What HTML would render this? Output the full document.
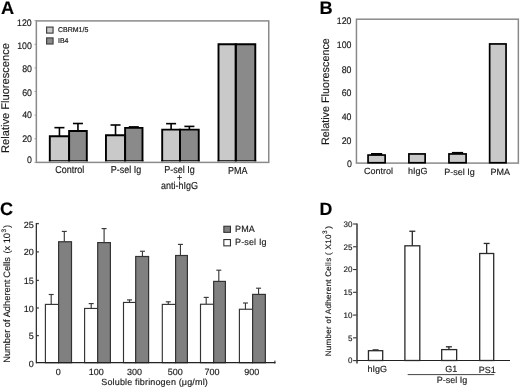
<!DOCTYPE html>
<html><head><meta charset="utf-8"><style>
html,body{margin:0;padding:0;background:#fff;}
body{width:520px;height:388px;overflow:hidden;}
svg{display:block;font-family:"Liberation Sans", sans-serif;}
svg{will-change:transform;}
.wrap{}
text{stroke:#1a1a1a;stroke-width:0.15px;text-rendering:geometricPrecision;}
</style></head><body>
<div class="wrap"><svg width="520" height="388" viewBox="0 0 520 388">
<rect width="520" height="388" fill="#fff"/>
<text transform="translate(0.9,13.90) scale(1,1)" font-size="18.2" text-anchor="start" font-weight="bold" fill="#000" letter-spacing="0" >A</text>
<text transform="translate(31.7,26.40) scale(1,1.08)" font-size="8.8" text-anchor="end" font-weight="normal" fill="#1a1a1a" letter-spacing="0" >120</text>
<text transform="translate(31.9,49.20) scale(1,1.08)" font-size="8.8" text-anchor="end" font-weight="normal" fill="#1a1a1a" letter-spacing="0" >100</text>
<text transform="translate(32.0,71.90) scale(1,1.08)" font-size="8.8" text-anchor="end" font-weight="normal" fill="#1a1a1a" letter-spacing="0" >80</text>
<text transform="translate(32.0,95.60) scale(1,1.08)" font-size="8.8" text-anchor="end" font-weight="normal" fill="#1a1a1a" letter-spacing="0" >60</text>
<text transform="translate(32.0,117.90) scale(1,1.08)" font-size="8.8" text-anchor="end" font-weight="normal" fill="#1a1a1a" letter-spacing="0" >40</text>
<text transform="translate(32.0,141.60) scale(1,1.08)" font-size="8.8" text-anchor="end" font-weight="normal" fill="#1a1a1a" letter-spacing="0" >20</text>
<text transform="translate(32.0,163.10) scale(1,1.08)" font-size="8.8" text-anchor="end" font-weight="normal" fill="#1a1a1a" letter-spacing="0" >0</text>
<text transform="translate(8.6,152.9) rotate(-90)" font-size="11.1" text-anchor="start" fill="#1a1a1a" letter-spacing="0">Relative Fluorescence</text>
<line x1="34.4" y1="162.4" x2="36" y2="162.4" stroke="#aaa" stroke-width="1"/>
<line x1="34.4" y1="138.775" x2="36" y2="138.775" stroke="#aaa" stroke-width="1"/>
<line x1="34.4" y1="115.15" x2="36" y2="115.15" stroke="#aaa" stroke-width="1"/>
<line x1="34.4" y1="91.525" x2="36" y2="91.525" stroke="#aaa" stroke-width="1"/>
<line x1="34.4" y1="67.9" x2="36" y2="67.9" stroke="#aaa" stroke-width="1"/>
<line x1="34.4" y1="44.27500000000002" x2="36" y2="44.27500000000002" stroke="#aaa" stroke-width="1"/>
<line x1="34.4" y1="20.650000000000006" x2="36" y2="20.650000000000006" stroke="#aaa" stroke-width="1"/>
<rect x="36.35" y="20.9" width="232.4" height="141.5" fill="none" stroke="#8a8a8a" stroke-width="1.5"/>
<line x1="59.449999999999996" y1="136.25" x2="59.449999999999996" y2="127.65" stroke="#000" stroke-width="1.6"/>
<line x1="54.449999999999996" y1="127.65" x2="64.44999999999999" y2="127.65" stroke="#000" stroke-width="1.6"/>
<line x1="77.94999999999999" y1="131.0" x2="77.94999999999999" y2="123.5" stroke="#000" stroke-width="1.6"/>
<line x1="72.94999999999999" y1="123.5" x2="82.94999999999999" y2="123.5" stroke="#000" stroke-width="1.6"/>
<rect x="49.80" y="136.25" width="19.30" height="24.75" fill="#c9c9c9"/>
<rect x="69.10" y="131.00" width="17.70" height="30.00" fill="#8a8a8a"/>
<path d="M49.80 161.3V136.25H69.10V161.3" fill="none" stroke="#000" stroke-width="1.9" stroke-linejoin="miter" stroke-linecap="butt"/>
<path d="M69.10 161.3V131.00H86.80V161.3" fill="none" stroke="#000" stroke-width="1.9" stroke-linejoin="miter" stroke-linecap="butt"/>
<line x1="48.849999999999994" y1="160.75" x2="87.75" y2="160.75" stroke="#000" stroke-width="1.1"/>
<line x1="115.525" y1="135.2" x2="115.525" y2="125.0" stroke="#000" stroke-width="1.6"/>
<line x1="110.525" y1="125.0" x2="120.525" y2="125.0" stroke="#000" stroke-width="1.6"/>
<line x1="133.8" y1="127.9" x2="133.8" y2="126.9" stroke="#000" stroke-width="1.6"/>
<line x1="128.8" y1="126.9" x2="138.8" y2="126.9" stroke="#000" stroke-width="1.6"/>
<rect x="105.95" y="135.20" width="19.15" height="25.80" fill="#c9c9c9"/>
<rect x="125.10" y="127.90" width="17.40" height="33.10" fill="#8a8a8a"/>
<path d="M105.95 161.3V135.20H125.10V161.3" fill="none" stroke="#000" stroke-width="1.9" stroke-linejoin="miter" stroke-linecap="butt"/>
<path d="M125.10 161.3V127.90H142.50V161.3" fill="none" stroke="#000" stroke-width="1.9" stroke-linejoin="miter" stroke-linecap="butt"/>
<line x1="105.0" y1="160.75" x2="143.45" y2="160.75" stroke="#000" stroke-width="1.1"/>
<line x1="171.1" y1="129.6" x2="171.1" y2="123.65" stroke="#000" stroke-width="1.6"/>
<line x1="166.1" y1="123.65" x2="176.1" y2="123.65" stroke="#000" stroke-width="1.6"/>
<line x1="189.375" y1="129.6" x2="189.375" y2="126.4" stroke="#000" stroke-width="1.6"/>
<line x1="184.375" y1="126.4" x2="194.375" y2="126.4" stroke="#000" stroke-width="1.6"/>
<rect x="162.20" y="129.60" width="17.80" height="31.40" fill="#c9c9c9"/>
<rect x="180.00" y="129.60" width="18.75" height="31.40" fill="#8a8a8a"/>
<path d="M162.20 161.3V129.60H180.00V161.3" fill="none" stroke="#000" stroke-width="1.9" stroke-linejoin="miter" stroke-linecap="butt"/>
<path d="M180.00 161.3V129.60H198.75V161.3" fill="none" stroke="#000" stroke-width="1.9" stroke-linejoin="miter" stroke-linecap="butt"/>
<line x1="161.25" y1="160.75" x2="199.7" y2="160.75" stroke="#000" stroke-width="1.1"/>
<rect x="218.50" y="44.30" width="17.25" height="116.70" fill="#c9c9c9"/>
<rect x="235.75" y="44.30" width="19.55" height="116.70" fill="#8a8a8a"/>
<path d="M218.50 161.3V44.30H235.75V161.3" fill="none" stroke="#000" stroke-width="1.9" stroke-linejoin="miter" stroke-linecap="butt"/>
<path d="M235.75 161.3V44.30H255.30V161.3" fill="none" stroke="#000" stroke-width="1.9" stroke-linejoin="miter" stroke-linecap="butt"/>
<line x1="217.55" y1="160.75" x2="256.25" y2="160.75" stroke="#000" stroke-width="1.1"/>
<rect x="46.60" y="27.10" width="6.45" height="6.00" fill="#c9c9c9" stroke="#444" stroke-width="1.2"/>
<rect x="46.60" y="37.90" width="6.45" height="6.10" fill="#8a8a8a" stroke="#444" stroke-width="1.2"/>
<text transform="translate(58.0,32.30) scale(1,1.0)" font-size="7" text-anchor="start" font-weight="normal" fill="#1a1a1a" letter-spacing="0" style="stroke-width:0.2px">CBRM1/5</text>
<text transform="translate(58.0,43.20) scale(1,1.0)" font-size="7" text-anchor="start" font-weight="normal" fill="#1a1a1a" letter-spacing="0" style="stroke-width:0.2px">IB4</text>
<text transform="translate(69.7,173.30) scale(1,1.12)" font-size="9" text-anchor="middle" font-weight="normal" fill="#1a1a1a" letter-spacing="0" >Control</text>
<text transform="translate(125.9,173.30) scale(1,1.12)" font-size="9" text-anchor="middle" font-weight="normal" fill="#1a1a1a" letter-spacing="0" >P-sel Ig</text>
<text transform="translate(179.5,173.30) scale(1,1.12)" font-size="9" text-anchor="middle" font-weight="normal" fill="#1a1a1a" letter-spacing="0" >P-sel Ig</text>
<text transform="translate(179.6,181.30) scale(1,1.12)" font-size="9" text-anchor="middle" font-weight="normal" fill="#1a1a1a" letter-spacing="0" >+</text>
<text transform="translate(179.6,188.90) scale(1,1.12)" font-size="9" text-anchor="middle" font-weight="normal" fill="#1a1a1a" letter-spacing="0" >anti-hIgG</text>
<text transform="translate(237.8,174.00) scale(1,1.12)" font-size="9" text-anchor="middle" font-weight="normal" fill="#1a1a1a" letter-spacing="0" >PMA</text>
<text transform="translate(319.6,13.90) scale(1,1)" font-size="18.2" text-anchor="start" font-weight="bold" fill="#000" letter-spacing="0" >B</text>
<text transform="translate(351.5,24.20) scale(1,1.08)" font-size="8.8" text-anchor="end" font-weight="normal" fill="#1a1a1a" letter-spacing="0" >120</text>
<text transform="translate(351.5,47.60) scale(1,1.08)" font-size="8.8" text-anchor="end" font-weight="normal" fill="#1a1a1a" letter-spacing="0" >100</text>
<text transform="translate(351.5,72.50) scale(1,1.08)" font-size="8.8" text-anchor="end" font-weight="normal" fill="#1a1a1a" letter-spacing="0" >80</text>
<text transform="translate(351.5,96.30) scale(1,1.08)" font-size="8.8" text-anchor="end" font-weight="normal" fill="#1a1a1a" letter-spacing="0" >60</text>
<text transform="translate(351.5,120.20) scale(1,1.08)" font-size="8.8" text-anchor="end" font-weight="normal" fill="#1a1a1a" letter-spacing="0" >40</text>
<text transform="translate(351.5,144.20) scale(1,1.08)" font-size="8.8" text-anchor="end" font-weight="normal" fill="#1a1a1a" letter-spacing="0" >20</text>
<text transform="translate(352,166.70) scale(1,1.08)" font-size="8.8" text-anchor="end" font-weight="normal" fill="#1a1a1a" letter-spacing="0" >0</text>
<text transform="translate(328.8,145.0) rotate(-90)" font-size="10.8" text-anchor="start" fill="#1a1a1a" letter-spacing="0">Relative Fluorescence</text>
<rect x="356.45" y="19.2" width="161.9" height="143.9" fill="none" stroke="#8a8a8a" stroke-width="1.5"/>
<rect x="371.00" y="153.00" width="11.2" height="2.00" fill="#000"/>
<rect x="368.05" y="155.05" width="17.10" height="7.70" fill="#c9c9c9" stroke="#000" stroke-width="1.7"/>
<rect x="408.90" y="153.95" width="16.25" height="8.80" fill="#c9c9c9" stroke="#000" stroke-width="1.7"/>
<rect x="451.92" y="151.90" width="11.2" height="2.00" fill="#000"/>
<rect x="448.95" y="153.95" width="17.15" height="8.80" fill="#c9c9c9" stroke="#000" stroke-width="1.7"/>
<rect x="489.65" y="43.95" width="16.40" height="118.80" fill="#c9c9c9" stroke="#000" stroke-width="1.7"/>
<text transform="translate(378.6,174.20) scale(1,1.0)" font-size="9" text-anchor="middle" font-weight="normal" fill="#1a1a1a" letter-spacing="0" >Control</text>
<text transform="translate(417.8,174.40) scale(1,1.0)" font-size="9" text-anchor="middle" font-weight="normal" fill="#1a1a1a" letter-spacing="0" >hIgG</text>
<text transform="translate(459.5,174.50) scale(1,1.0)" font-size="9" text-anchor="middle" font-weight="normal" fill="#1a1a1a" letter-spacing="0" >P-sel Ig</text>
<text transform="translate(500.3,174.90) scale(1,1.0)" font-size="9" text-anchor="middle" font-weight="normal" fill="#1a1a1a" letter-spacing="0" >PMA</text>
<text transform="translate(0.1,215.10) scale(1,1)" font-size="18" text-anchor="start" font-weight="bold" fill="#000" letter-spacing="0" >C</text>
<text transform="translate(33.8,227.80) scale(1,1.0)" font-size="9" text-anchor="end" font-weight="normal" fill="#1a1a1a" letter-spacing="0" >25</text>
<text transform="translate(33.8,255.40) scale(1,1.0)" font-size="9" text-anchor="end" font-weight="normal" fill="#1a1a1a" letter-spacing="0" >20</text>
<text transform="translate(33.8,283.50) scale(1,1.0)" font-size="9" text-anchor="end" font-weight="normal" fill="#1a1a1a" letter-spacing="0" >15</text>
<text transform="translate(33.8,311.70) scale(1,1.0)" font-size="9" text-anchor="end" font-weight="normal" fill="#1a1a1a" letter-spacing="0" >10</text>
<text transform="translate(33.8,339.20) scale(1,1.0)" font-size="9" text-anchor="end" font-weight="normal" fill="#1a1a1a" letter-spacing="0" >5</text>
<text transform="translate(33.8,367.30) scale(1,1.0)" font-size="9" text-anchor="end" font-weight="normal" fill="#1a1a1a" letter-spacing="0" >0</text>
<line x1="36.2" y1="223.6" x2="38.9" y2="223.6" stroke="#444" stroke-width="1.3"/>
<line x1="36.2" y1="251.9" x2="38.9" y2="251.9" stroke="#444" stroke-width="1.3"/>
<line x1="36.2" y1="280.4" x2="38.9" y2="280.4" stroke="#444" stroke-width="1.3"/>
<line x1="36.2" y1="308.0" x2="38.9" y2="308.0" stroke="#444" stroke-width="1.3"/>
<line x1="36.2" y1="335.6" x2="38.9" y2="335.6" stroke="#444" stroke-width="1.3"/>
<text transform="translate(9.6,362.8) rotate(-90)" font-size="9.3" text-anchor="start" fill="#1a1a1a" letter-spacing="0">Number of Adherent <tspan x="85.0">Cells</tspan><tspan x="109.3">(x</tspan><tspan x="119.5">10</tspan><tspan x="130.4" font-size="6.5" dy="-4.0">3</tspan><tspan x="134.8" dy="4.0">)</tspan></text>
<line x1="51.2" y1="304.4" x2="51.2" y2="294.5" stroke="#3a3a3a" stroke-width="1.15"/>
<line x1="48.7" y1="294.5" x2="53.7" y2="294.5" stroke="#3a3a3a" stroke-width="1.15"/>
<line x1="64.3" y1="241.75" x2="64.3" y2="231.4" stroke="#3a3a3a" stroke-width="1.15"/>
<line x1="61.8" y1="231.4" x2="66.8" y2="231.4" stroke="#3a3a3a" stroke-width="1.15"/>
<rect x="45.40" y="304.40" width="13.20" height="58.30" fill="#fff" stroke="#333" stroke-width="1.15"/>
<rect x="58.60" y="241.75" width="12.90" height="120.95" fill="#808080" stroke="#333" stroke-width="1.2"/>
<line x1="91.2" y1="308.45" x2="91.2" y2="303.6" stroke="#3a3a3a" stroke-width="1.15"/>
<line x1="88.7" y1="303.6" x2="93.7" y2="303.6" stroke="#3a3a3a" stroke-width="1.15"/>
<line x1="104.1" y1="242.6" x2="104.1" y2="228.6" stroke="#3a3a3a" stroke-width="1.15"/>
<line x1="101.6" y1="228.6" x2="106.6" y2="228.6" stroke="#3a3a3a" stroke-width="1.15"/>
<rect x="84.60" y="308.45" width="13.10" height="54.25" fill="#fff" stroke="#333" stroke-width="1.15"/>
<rect x="97.70" y="242.60" width="12.70" height="120.10" fill="#808080" stroke="#333" stroke-width="1.2"/>
<line x1="129.5" y1="302.45" x2="129.5" y2="299.9" stroke="#3a3a3a" stroke-width="1.15"/>
<line x1="127.0" y1="299.9" x2="132.0" y2="299.9" stroke="#3a3a3a" stroke-width="1.15"/>
<line x1="142.45" y1="256.5" x2="142.45" y2="251.25" stroke="#3a3a3a" stroke-width="1.15"/>
<line x1="139.95" y1="251.25" x2="144.95" y2="251.25" stroke="#3a3a3a" stroke-width="1.15"/>
<rect x="123.50" y="302.45" width="12.20" height="60.25" fill="#fff" stroke="#333" stroke-width="1.15"/>
<rect x="135.70" y="256.50" width="12.90" height="106.20" fill="#808080" stroke="#333" stroke-width="1.2"/>
<line x1="168.3" y1="304.4" x2="168.3" y2="301.8" stroke="#3a3a3a" stroke-width="1.15"/>
<line x1="165.8" y1="301.8" x2="170.8" y2="301.8" stroke="#3a3a3a" stroke-width="1.15"/>
<line x1="180.45" y1="255.5" x2="180.45" y2="244.4" stroke="#3a3a3a" stroke-width="1.15"/>
<line x1="177.95" y1="244.4" x2="182.95" y2="244.4" stroke="#3a3a3a" stroke-width="1.15"/>
<rect x="162.30" y="304.40" width="13.30" height="58.30" fill="#fff" stroke="#333" stroke-width="1.15"/>
<rect x="175.60" y="255.50" width="11.80" height="107.20" fill="#808080" stroke="#333" stroke-width="1.2"/>
<line x1="206.2" y1="304.25" x2="206.2" y2="297.4" stroke="#3a3a3a" stroke-width="1.15"/>
<line x1="203.7" y1="297.4" x2="208.7" y2="297.4" stroke="#3a3a3a" stroke-width="1.15"/>
<line x1="218.8" y1="281.4" x2="218.8" y2="270.2" stroke="#3a3a3a" stroke-width="1.15"/>
<line x1="216.3" y1="270.2" x2="221.3" y2="270.2" stroke="#3a3a3a" stroke-width="1.15"/>
<rect x="200.50" y="304.25" width="13.15" height="58.45" fill="#fff" stroke="#333" stroke-width="1.15"/>
<rect x="213.65" y="281.40" width="11.75" height="81.30" fill="#808080" stroke="#333" stroke-width="1.2"/>
<line x1="245.45" y1="309.25" x2="245.45" y2="303.0" stroke="#3a3a3a" stroke-width="1.15"/>
<line x1="242.95" y1="303.0" x2="247.95" y2="303.0" stroke="#3a3a3a" stroke-width="1.15"/>
<line x1="258.55" y1="294.4" x2="258.55" y2="288.2" stroke="#3a3a3a" stroke-width="1.15"/>
<line x1="256.05" y1="288.2" x2="261.05" y2="288.2" stroke="#3a3a3a" stroke-width="1.15"/>
<rect x="239.40" y="309.25" width="13.20" height="53.45" fill="#fff" stroke="#333" stroke-width="1.15"/>
<rect x="252.60" y="294.40" width="12.75" height="68.30" fill="#808080" stroke="#333" stroke-width="1.2"/>
<line x1="36.35" y1="223" x2="36.35" y2="363.3" stroke="#333" stroke-width="1.3"/>
<line x1="36.25" y1="362.7" x2="275.4" y2="362.7" stroke="#222" stroke-width="1.2"/>
<line x1="274.9" y1="360.6" x2="274.9" y2="363.5" stroke="#222" stroke-width="1.0"/>
<rect x="223.85" y="226.25" width="6.60" height="6.10" fill="#808080" stroke="#333" stroke-width="1.1"/>
<rect x="223.85" y="239.55" width="6.60" height="6.30" fill="#fff" stroke="#333" stroke-width="1.1"/>
<text transform="translate(235.0,231.90) scale(1,1.0)" font-size="9" text-anchor="start" font-weight="normal" fill="#1a1a1a" letter-spacing="0.15" >PMA</text>
<text transform="translate(235.0,245.30) scale(1,1.0)" font-size="9" text-anchor="start" font-weight="normal" fill="#1a1a1a" letter-spacing="0.15" >P-sel Ig</text>
<text transform="translate(58.2,375.10) scale(1,1.0)" font-size="9" text-anchor="middle" font-weight="normal" fill="#1a1a1a" letter-spacing="0" >0</text>
<text transform="translate(96.25,375.10) scale(1,1.0)" font-size="9" text-anchor="middle" font-weight="normal" fill="#1a1a1a" letter-spacing="0" >100</text>
<text transform="translate(134.4,375.10) scale(1,1.0)" font-size="9" text-anchor="middle" font-weight="normal" fill="#1a1a1a" letter-spacing="0" >300</text>
<text transform="translate(175.25,375.10) scale(1,1.0)" font-size="9" text-anchor="middle" font-weight="normal" fill="#1a1a1a" letter-spacing="0" >500</text>
<text transform="translate(212,375.10) scale(1,1.0)" font-size="9" text-anchor="middle" font-weight="normal" fill="#1a1a1a" letter-spacing="0" >700</text>
<text transform="translate(251.8,375.10) scale(1,1.0)" font-size="9" text-anchor="middle" font-weight="normal" fill="#1a1a1a" letter-spacing="0" >900</text>
<text transform="translate(101.3,384.50) scale(1,1.0)" font-size="9" text-anchor="start" font-weight="normal" fill="#1a1a1a" letter-spacing="0.15" >Soluble fibrinogen (μg/ml)</text>
<text transform="translate(319.6,215.30) scale(1,1)" font-size="17.8" text-anchor="start" font-weight="bold" fill="#000" letter-spacing="0" >D</text>
<line x1="353.1" y1="360.6" x2="356.9" y2="360.6" stroke="#333" stroke-width="1.1"/>
<text transform="translate(352.4,363.40) scale(1,1.0)" font-size="8" text-anchor="end" font-weight="normal" fill="#1a1a1a" letter-spacing="0" >0</text>
<line x1="353.1" y1="337.83333333333337" x2="356.9" y2="337.83333333333337" stroke="#333" stroke-width="1.1"/>
<text transform="translate(352.4,340.63) scale(1,1.0)" font-size="8" text-anchor="end" font-weight="normal" fill="#1a1a1a" letter-spacing="0" >5</text>
<line x1="353.1" y1="315.06666666666666" x2="356.9" y2="315.06666666666666" stroke="#333" stroke-width="1.1"/>
<text transform="translate(352.4,317.87) scale(1,1.0)" font-size="8" text-anchor="end" font-weight="normal" fill="#1a1a1a" letter-spacing="0" >10</text>
<line x1="353.1" y1="292.3" x2="356.9" y2="292.3" stroke="#333" stroke-width="1.1"/>
<text transform="translate(352.4,295.10) scale(1,1.0)" font-size="8" text-anchor="end" font-weight="normal" fill="#1a1a1a" letter-spacing="0" >15</text>
<line x1="353.1" y1="269.53333333333336" x2="356.9" y2="269.53333333333336" stroke="#333" stroke-width="1.1"/>
<text transform="translate(352.4,272.33) scale(1,1.0)" font-size="8" text-anchor="end" font-weight="normal" fill="#1a1a1a" letter-spacing="0" >20</text>
<line x1="353.1" y1="246.76666666666668" x2="356.9" y2="246.76666666666668" stroke="#333" stroke-width="1.1"/>
<text transform="translate(352.4,249.57) scale(1,1.0)" font-size="8" text-anchor="end" font-weight="normal" fill="#1a1a1a" letter-spacing="0" >25</text>
<line x1="353.1" y1="224.0" x2="356.9" y2="224.0" stroke="#333" stroke-width="1.1"/>
<text transform="translate(352.4,226.80) scale(1,1.0)" font-size="8" text-anchor="end" font-weight="normal" fill="#1a1a1a" letter-spacing="0" >30</text>
<line x1="357.0" y1="223.5" x2="357.0" y2="363.6" stroke="#444" stroke-width="1.6"/>
<line x1="356.9" y1="360.5" x2="510" y2="360.5" stroke="#222" stroke-width="1.2"/>
<text transform="translate(331.3,356.3) rotate(-90)" font-size="8.0" text-anchor="start" fill="#1a1a1a" letter-spacing="0.3">Number of Adherent Cells ( X <tspan x="112.6">10</tspan><tspan font-size="6.5" dx="0.3" dy="-4.6">3</tspan><tspan dx="1.2" dy="4.6">)</tspan></text>
<line x1="375.6" y1="350.7" x2="375.6" y2="349.9" stroke="#2a2a2a" stroke-width="1.3"/>
<line x1="372.6" y1="349.9" x2="378.6" y2="349.9" stroke="#2a2a2a" stroke-width="1.3"/>
<rect x="368.45" y="350.70" width="14.25" height="9.80" fill="#fff" stroke="#2a2a2a" stroke-width="1.3"/>
<line x1="412.3" y1="245.8" x2="412.3" y2="231.25" stroke="#2a2a2a" stroke-width="1.3"/>
<line x1="409.3" y1="231.25" x2="415.3" y2="231.25" stroke="#2a2a2a" stroke-width="1.3"/>
<rect x="404.90" y="245.80" width="14.90" height="114.70" fill="#fff" stroke="#2a2a2a" stroke-width="1.3"/>
<line x1="448.9" y1="349.6" x2="448.9" y2="346.8" stroke="#2a2a2a" stroke-width="1.3"/>
<line x1="445.9" y1="346.8" x2="451.9" y2="346.8" stroke="#2a2a2a" stroke-width="1.3"/>
<rect x="441.70" y="349.60" width="14.95" height="10.90" fill="#fff" stroke="#2a2a2a" stroke-width="1.3"/>
<line x1="486.65" y1="253.5" x2="486.65" y2="243.45" stroke="#2a2a2a" stroke-width="1.3"/>
<line x1="483.65" y1="243.45" x2="489.65" y2="243.45" stroke="#2a2a2a" stroke-width="1.3"/>
<rect x="479.70" y="253.50" width="14.00" height="107.00" fill="#fff" stroke="#2a2a2a" stroke-width="1.3"/>
<text transform="translate(377.2,372.40) scale(1,1.0)" font-size="9" text-anchor="middle" font-weight="normal" fill="#1a1a1a" letter-spacing="0" >hIgG</text>
<text transform="translate(451.2,372.40) scale(1,1.0)" font-size="9" text-anchor="middle" font-weight="normal" fill="#1a1a1a" letter-spacing="0" >G1</text>
<text transform="translate(487.2,372.80) scale(1,1.0)" font-size="9" text-anchor="middle" font-weight="normal" fill="#1a1a1a" letter-spacing="0" >PS1</text>
<line x1="407.7" y1="374.6" x2="494.2" y2="374.6" stroke="#444" stroke-width="1"/>
<text transform="translate(452.1,383.00) scale(1,1.0)" font-size="9" text-anchor="middle" font-weight="normal" fill="#1a1a1a" letter-spacing="0" >P-sel Ig</text>
</svg></div>
</body></html>
